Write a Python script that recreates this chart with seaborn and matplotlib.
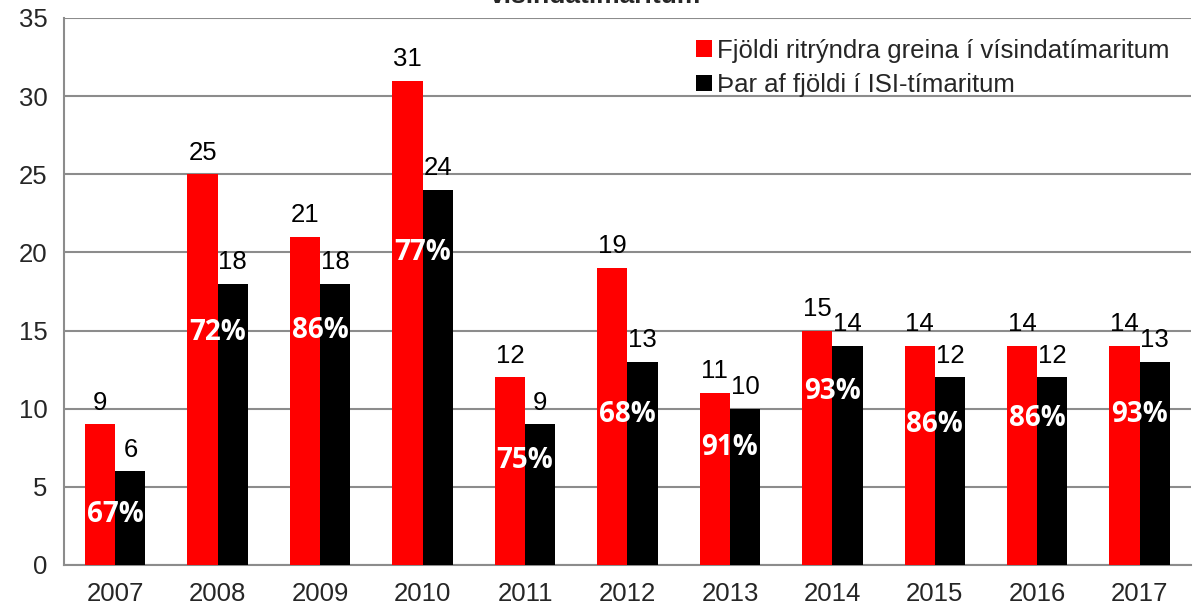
import numpy as np
import pandas as pd
import matplotlib
matplotlib.use("Agg")
import matplotlib.pyplot as plt
import seaborn as sns

# data
years = ["2007", "2008", "2009", "2010", "2011", "2012", "2013", "2014", "2015", "2016", "2017"]
total = [9, 25, 21, 31, 12, 19, 11, 15, 14, 14, 14]
isi = [6, 18, 18, 24, 9, 13, 10, 14, 12, 12, 13]
# height (in data units) where each percentage label sits
pct_y = [3.2, 14.9, 15.0, 20.0, 6.7, 9.6, 7.5, 11.1, 9.0, 9.4, 9.6]
series_names = ["Fjöldi ritrýndra greina í vísindatímaritum", "Þar af fjöldi í ISI-tímaritum"]
title = "vísindatímaritum"

df = pd.DataFrame({
    "year": years * 2,
    "value": total + isi,
    "series": [series_names[0]] * len(years) + [series_names[1]] * len(years),
})

sns.set_style("white")
plt.rcParams["font.family"] = ["Liberation Sans", "DejaVu Sans"]

FS = 18.5

fig = plt.figure(figsize=(11.95, 6.12), dpi=100)
ax = fig.add_axes([0.0536, 0.0768, 0.943, 0.8938])

sns.barplot(
    data=df, x="year", y="value", hue="series",
    palette=["#ff0000", "#000000"], saturation=1, width=0.59, gap=0,
    linewidth=0, ax=ax, zorder=3,
)

for cont in ax.containers:
    ax.bar_label(cont, labels=[f"{int(v)}" for v in cont.datavalues],
                 padding=7, fontsize=FS, color="black")

for i in range(len(years)):
    pct = round(100 * isi[i] / total[i])
    ax.text(i, pct_y[i], f"{pct}%", ha="center", va="center", color="white",
            fontsize=20, fontweight="bold", family=["Open Sans", "DejaVu Sans"], zorder=5)

ax.set_ylim(0, 35)
ax.set_yticks(range(0, 36, 5))
ax.set_xlim(-0.5, len(years) - 0.5)
ax.set_xlabel("")
ax.set_ylabel("")
ax.yaxis.grid(True, color="#8c8c8c", lw=1.5, zorder=0)
ax.set_axisbelow(True)

# ticks between categories
ax.set_xticks(np.arange(len(years)))
ax.set_xticklabels(years)
ax.set_xticks(np.arange(-0.5, len(years)), minor=True)
ax.tick_params(axis="x", which="major", length=0, labelsize=FS, pad=12)
ax.tick_params(axis="x", which="minor", length=8, width=1.5, color="#8c8c8c", direction="out")
ax.tick_params(axis="y", length=6, width=1.5, color="#8c8c8c", direction="out", labelsize=FS, pad=6)

for s in ["top", "right"]:
    ax.spines[s].set_visible(False)
for s in ["left", "bottom"]:
    ax.spines[s].set_color("#8c8c8c")
    ax.spines[s].set_linewidth(1.5)

leg = ax.legend(loc="upper right", bbox_to_anchor=(0.995, 0.99), frameon=False,
                fontsize=FS, handlelength=0.6, handleheight=0.6, handletextpad=0.25,
                labelspacing=0.4, borderaxespad=0.2)
for h in leg.legend_handles:
    h.set_height(12)
    h.set_width(12)

fig.text(0.498, 0.987, title, ha="center", va="bottom", fontsize=19, fontweight="bold")

fig.savefig("out.png", dpi=100)
